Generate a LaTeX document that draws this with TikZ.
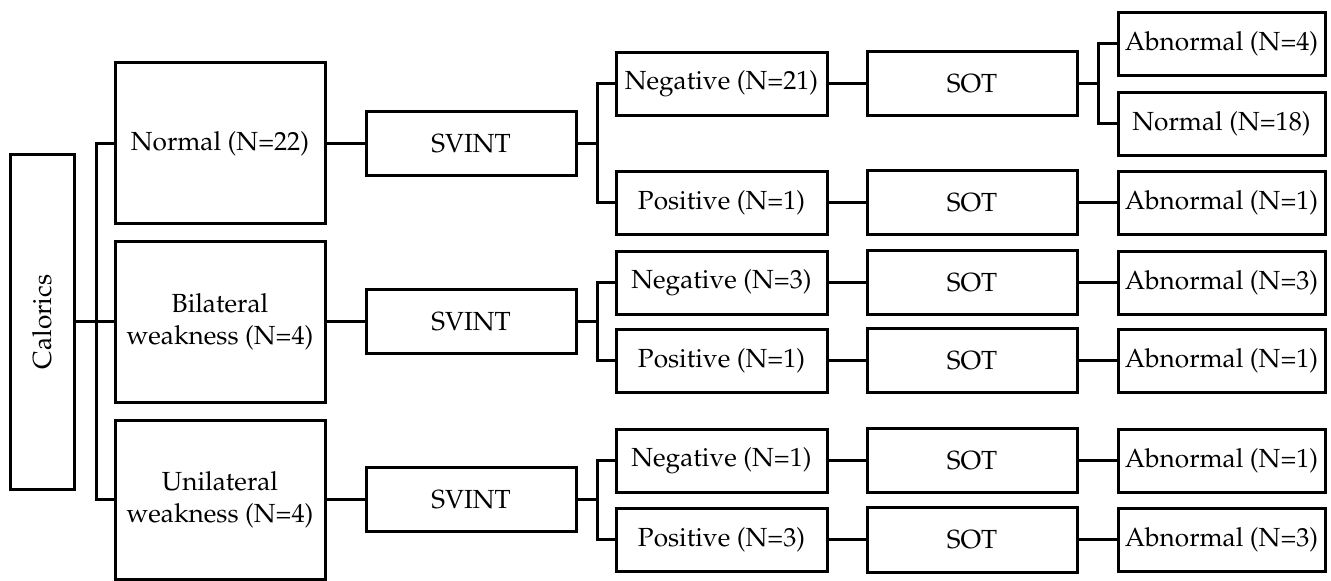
\documentclass[tikz,border=0pt]{standalone}
\usepackage[T1]{fontenc}
\usepackage{mathpazo}
\usepackage{graphicx}
\usepackage{tikz}
\usetikzlibrary{positioning}
\tikzset{
    box/.style = {rectangle, draw=black, line width=1.5pt, align=center, inner sep=0pt, font=\fontsize{13.1}{15.8}\selectfont},
    calbox/.style = {box, minimum width=32pt, minimum height=167.5pt},
    catbox/.style = {box, minimum width=105pt, minimum height=80.5pt},
    testbox/.style = {box, minimum width=105pt, minimum height=32pt},
    resbox/.style = {box, minimum width=105.5pt, minimum height=31.5pt},
    outbox/.style = {box, minimum width=103.5pt, minimum height=31.5pt},
    link/.style = {line width=1.5pt, draw=black}
}

\begin{document}
\begin{tikzpicture}[x=0.5pt, y=-0.5pt]
\useasboundingbox (0,0) rectangle (1331,581);

\node[calbox] at (42,322) (cal) {\rotatebox{90}{Calorics}};

\node[catbox] at (220,143.5) (nor) {Normal (N=22)};
\node[catbox] at (220,322) (bil) {Bilateral\\weakness (N=4)};
\node[catbox, minimum height=79.5pt] at (220,500) (uni) {Unilateral\\weakness (N=4)};

\node[testbox] at (471,143.5) (sv1) {SVINT};
\node[testbox] at (471,322) (sv2) {SVINT};
\node[testbox] at (471,500) (sv3) {SVINT};

\node[resbox] at (721.5,84) (neg1) {Negative (N=21)};
\node[resbox] at (721.5,203) (pos1) {Positive (N=1)};
\node[resbox] at (721.5,283) (neg2) {Negative (N=3)};
\node[resbox] at (721.5,361) (pos2) {Positive (N=1)};
\node[resbox] at (721.5,461) (neg3) {Negative (N=1)};
\node[resbox] at (721.5,540) (pos3) {Positive (N=3)};

\node[testbox] at (972,84) (sot1) {SOT};
\node[testbox] at (972,203) (sot2) {SOT};
\node[testbox] at (972,283) (sot3) {SOT};
\node[testbox] at (972,361) (sot4) {SOT};
\node[testbox] at (972,461) (sot5) {SOT};
\node[testbox] at (972,540) (sot6) {SOT};

\node[outbox] at (1221.5,44) (ab1) {Abnormal (N=4)};
\node[outbox] at (1221.5,124) (nm1) {Normal (N=18)};
\node[outbox] at (1221.5,203) (ab2) {Abnormal (N=1)};
\node[outbox] at (1221.5,283) (ab3) {Abnormal (N=3)};
\node[outbox] at (1221.5,361) (ab4) {Abnormal (N=1)};
\node[outbox] at (1221.5,461) (ab5) {Abnormal (N=1)};
\node[outbox] at (1221.5,540) (ab6) {Abnormal (N=3)};
%
\draw[link] (cal.east) -- ++(21,0) |- (nor.west);
\draw[link] (cal.east) -- (bil.west);
\draw[link] (cal.east) -- ++(21,0) |- (uni.west);

\draw[link] (nor) -- (sv1);
\draw[link] (bil) -- (sv2);
\draw[link] (uni) -- (sv3);

\draw[link] (sv1.east) -- ++(20,0) |- (neg1.west);
\draw[link] (sv1.east) -- ++(20,0) |- (pos1.west);
\draw[link] (sv2.east) -- ++(20,0) |- (neg2.west);
\draw[link] (sv2.east) -- ++(20,0) |- (pos2.west);
\draw[link] (sv3.east) -- ++(20,0) |- (neg3.west);
\draw[link] (sv3.east) -- ++(20,0) |- (pos3.west);

\draw[link] (neg1) -- (sot1);
\draw[link] (pos1) -- (sot2);
\draw[link] (neg2) -- (sot3);
\draw[link] (pos2) -- (sot4);
\draw[link] (neg3) -- (sot5);
\draw[link] (pos3) -- (sot6);

\draw[link] (sot1.east) -- ++(20,0) |- (ab1.west);
\draw[link] (sot1.east) -- ++(20,0) |- (nm1.west);
\draw[link] (sot2) -- (ab2);
\draw[link] (sot3) -- (ab3);
\draw[link] (sot4) -- (ab4);
\draw[link] (sot5) -- (ab5);
\draw[link] (sot6) -- (ab6);

\end{tikzpicture}
\end{document}
